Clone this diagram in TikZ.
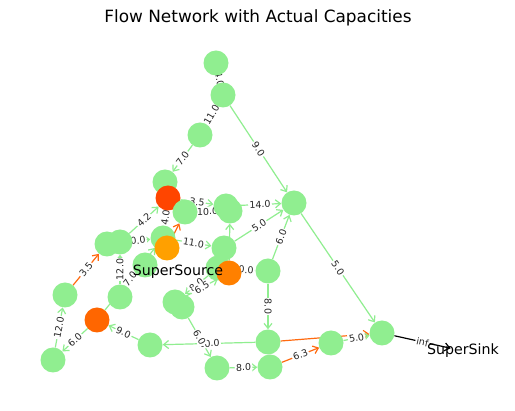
\documentclass[tikz,border=0pt]{standalone}
\usepackage{fontspec}
\setmainfont{DejaVu Sans}
\usetikzlibrary{arrows.meta}
\pgfdeclarelayer{bglayer}
\pgfdeclarelayer{edgelayer}
\pgfdeclarelayer{labellayer}
\pgfsetlayers{bglayer,edgelayer,labellayer,main}
\definecolor{lgreen}{HTML}{90EE90}
\definecolor{flowor}{HTML}{FF6A10}
\definecolor{nodeA}{HTML}{FF4500}
\definecolor{nodeB}{HTML}{FFA000}
\definecolor{nodeC}{HTML}{FF8000}
\definecolor{nodeD}{HTML}{FF6600}
\tikzset{
  vtx/.style={circle,fill=lgreen,minimum size=25pt,inner sep=0pt},
  hot/.style={circle,fill=#1,minimum size=25pt,inner sep=0pt},
  ge/.style={draw=lgreen,line width=1.2pt,-{Straight Barb[length=5pt,width=8pt]}},
  oe/.style={draw=flowor,line width=1.2pt,-{Straight Barb[length=5pt,width=8pt]}},
  be/.style={draw=black,line width=1.2pt,-{Straight Barb[length=5pt,width=8pt]}},
  elbl/.style={fill=white,inner sep=1.2pt,font=\fontsize{9.5}{10}\selectfont,text=black!85},
  biglbl/.style={font=\fontsize{14.2}{16}\selectfont,inner sep=0pt}
}
\newcommand{\fedge}[4]{%
  \begin{pgfonlayer}{edgelayer}\path[#1] (#2) -- (#3);\end{pgfonlayer}%
  \begin{pgfonlayer}{labellayer}\path (#2) -- (#3) node[elbl,midway,sloped]{#4};\end{pgfonlayer}}
\newcommand{\pedge}[3]{%
  \begin{pgfonlayer}{edgelayer}\path[#1] (#2) -- (#3);\end{pgfonlayer}}
\begin{document}
\begin{tikzpicture}[x=1pt,y=-1pt]
\begin{pgfonlayer}{bglayer}
\fill[white] (0,0) rectangle (515,411);
\end{pgfonlayer}
\useasboundingbox (0,0) rectangle (515,411);
\node[font=\fontsize{16.9}{20}\selectfont] (title) at (258,18) {Flow Network with Actual Capacities};
% nodes
\node[vtx] (A) at (216,63) {};
\node[vtx] (B) at (223,95) {};
\node[vtx] (C) at (200,135) {};
\node[vtx] (D) at (165,182) {};
\node[hot=nodeA] (E) at (168,198) {};
\node[vtx] (F) at (185,212) {};
\node[vtx] (G) at (226,206) {};
\node[vtx] (H) at (230,211) {};
\node[vtx] (I) at (294,203) {};
\node[vtx] (J) at (107,244) {};
\node[vtx] (K) at (120,242) {};
\node[vtx] (L) at (163,238) {};
\node[hot=nodeB] (M) at (167,248) {};
\node[vtx] (N) at (224,248) {};
\node[vtx] (O) at (145,265) {};
\node[vtx] (P) at (218,268) {};
\node[hot=nodeC] (Q) at (229,273) {};
\node[vtx] (R) at (268,271) {};
\node[vtx] (S) at (65,295) {};
\node[vtx] (T) at (120,297) {};
\node[hot=nodeD] (U) at (97,320) {};
\node[vtx] (V) at (175,302) {};
\node[vtx] (W) at (182,307) {};
\node[vtx] (X) at (53,360) {};
\node[vtx] (Y) at (150,345) {};
\node[vtx] (Z) at (268,342) {};
\node[vtx] (AA) at (217,368) {};
\node[vtx] (AB) at (270,367) {};
\node[vtx] (AC) at (331,343) {};
\node[vtx] (AD) at (382,333) {};
\node[circle,minimum size=25pt,inner sep=0pt] (sink) at (463,351) {};
\node[biglbl] (sinklbl) at (sink) {SuperSink};
\node[biglbl] (srclbl) at (178,272) {SuperSource};
% edges
\fedge{ge}{A}{B}{4.0}
\fedge{ge}{B}{C}{11.0}
\fedge{ge}{C}{D}{7.0}
\fedge{ge}{B}{I}{9.0}
\fedge{ge}{I}{AD}{5.0}
\fedge{ge}{G}{I}{14.0}
\fedge{ge}{E}{G}{3.5}
\fedge{ge}{F}{H}{10.0}
\fedge{ge}{E}{L}{4.0}
\fedge{ge}{K}{E}{4.2}
\fedge{ge}{J}{L}{10.0}
\fedge{ge}{L}{N}{11.0}
\fedge{ge}{N}{I}{5.0}
\pedge{ge}{Q}{H}
\fedge{ge}{R}{I}{6.0}
\fedge{ge}{R}{Z}{8.0}
\fedge{ge}{P}{R}{10.0}
\fedge{ge}{P}{V}{8.0}
\fedge{ge}{V}{Q}{6.5}
\fedge{ge}{Z}{Y}{10.0}
\fedge{ge}{W}{AA}{6.0}
\fedge{ge}{Y}{U}{9.0}
\fedge{ge}{U}{X}{6.0}
\fedge{ge}{X}{S}{12.0}
\fedge{oe}{S}{J}{3.5}
\fedge{ge}{T}{K}{12.0}
\fedge{ge}{U}{L}{7.0}
\pedge{oe}{M}{F}
\pedge{oe}{Z}{AD}
\fedge{ge}{AC}{AD}{5.0}
\fedge{oe}{AB}{AC}{6.3}
\fedge{ge}{AA}{AB}{8.0}
\fedge{be}{AD}{sink}{inf}
\end{tikzpicture}
\end{document}
